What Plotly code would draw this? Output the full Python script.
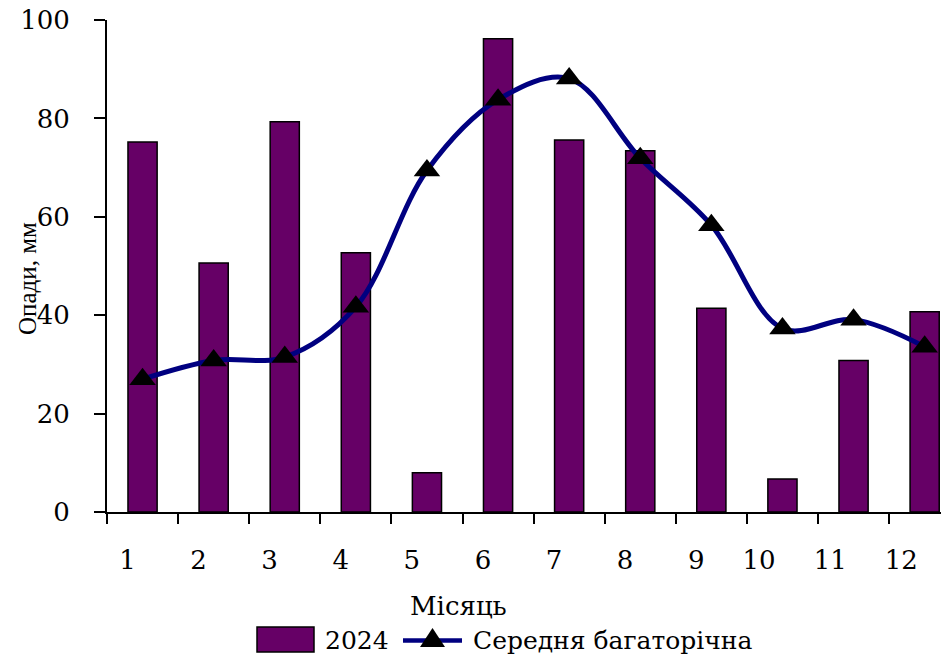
import plotly.graph_objects as go

# Monthly precipitation data, mm
months = [1, 2, 3, 4, 5, 6, 7, 8, 9, 10, 11, 12]
month_labels = ["1", "2", "3", "4", "5", "6", "7", "8", "9", "10", "11", "12"]
precip_2024 = [75.2, 50.6, 79.3, 52.7, 8.0, 96.2, 75.6, 73.4, 41.4, 6.7, 30.8, 40.7]
precip_norm = [27.0, 30.8, 31.5, 41.7, 69.4, 83.8, 88.1, 71.9, 58.3, 37.3, 39.1, 33.6]
y_ticks = [0, 20, 40, 60, 80, 100]

series_bar_name = "2024"
series_line_name = "Середня багаторічна"
x_title = "Місяць"
y_title = "Опади, мм"

W, H = 941, 660
L, R, T, B = 107, 0, 20, 148
CAT_PX = 71.1  # pixel width of one month slot

PURPLE = "#660066"
NAVY = "#000080"
FONT = "DejaVu Serif"
FONT_V = "Liberation Serif"


def px(x):
    """pixel x -> paper x"""
    return (x - L) / (W - L - R)


def py(y):
    """pixel y -> paper y"""
    return (H - B - y) / (H - T - B)


fig = go.Figure()

fig.add_trace(go.Bar(
    x=months, y=precip_2024, name=series_bar_name,
    width=0.41,
    marker=dict(color=PURPLE, line=dict(color="black", width=1.5)),
))

fig.add_trace(go.Scatter(
    x=months, y=precip_norm, name=series_line_name,
    mode="lines+markers",
    line=dict(color=NAVY, width=5, shape="spline", smoothing=1.0),
    marker=dict(symbol="triangle-up", size=23, color="black",
                line=dict(color="black", width=0)),
))

x_right = 0.5 + (W - L - R) / CAT_PX

fig.update_xaxes(
    range=[0.5, x_right],
    tickmode="array",
    tickvals=[m - 0.075 for m in months],
    ticktext=month_labels,
    ticklabelposition="outside left",
    ticks="outside", ticklen=0,
    ticklabelstandoff=24,
    tickfont=dict(family=FONT, size=26, color="black"),
    minor=dict(tickmode="array", tickvals=[m - 0.5 for m in months],
               ticks="outside", ticklen=10, tickwidth=2, tickcolor="black"),
    showline=True, linecolor="black", linewidth=2,
    showgrid=False, zeroline=False,
)

fig.update_yaxes(
    range=[0, 100],
    tickmode="array", tickvals=y_ticks,
    ticks="outside", ticklen=11, tickwidth=2, tickcolor="black",
    ticklabelstandoff=19,
    tickfont=dict(family=FONT, size=26, color="black"),
    showline=True, linecolor="black", linewidth=2,
    showgrid=False, zeroline=False,
)

annotations = [
    dict(text=y_title, x=px(27), y=py(279), xref="paper", yref="paper",
         textangle=-90, showarrow=False, xanchor="center", yanchor="middle",
         font=dict(family=FONT_V, size=25, color="black")),
    dict(text=x_title, x=px(458), y=py(606), xref="paper", yref="paper",
         showarrow=False, xanchor="center", yanchor="middle",
         font=dict(family=FONT, size=26, color="black")),
    dict(text=series_bar_name, x=px(323), y=py(640), xref="paper", yref="paper",
         showarrow=False, xanchor="left", yanchor="middle",
         font=dict(family=FONT, size=25, color="black")),
    dict(text=series_line_name, x=px(471), y=py(640), xref="paper", yref="paper",
         showarrow=False, xanchor="left", yanchor="middle",
         font=dict(family=FONT, size=25, color="black")),
]

# legend keys
tri_cx, tri_top, tri_bot, tri_hw = 432.5, 628, 647, 12.5
shapes = [
    dict(type="rect", xref="paper", yref="paper",
         x0=px(257), x1=px(314), y0=py(652), y1=py(627),
         fillcolor=PURPLE, line=dict(color="black", width=1.5)),
    dict(type="line", xref="paper", yref="paper",
         x0=px(403), x1=px(462), y0=py(640.5), y1=py(640.5),
         line=dict(color=NAVY, width=4.5)),
    dict(type="path", xref="paper", yref="paper",
         path=(f"M {px(tri_cx - tri_hw)},{py(tri_bot)} "
               f"L {px(tri_cx + tri_hw)},{py(tri_bot)} "
               f"L {px(tri_cx)},{py(tri_top)} Z"),
         fillcolor="black", line=dict(color="black", width=0)),
]

fig.update_layout(
    width=W, height=H,
    margin=dict(l=L, r=R, t=T, b=B, autoexpand=False),
    paper_bgcolor="white", plot_bgcolor="white",
    showlegend=False,
    annotations=annotations,
    shapes=shapes,
    font=dict(family=FONT, color="black"),
)

fig.write_html("out.html")
